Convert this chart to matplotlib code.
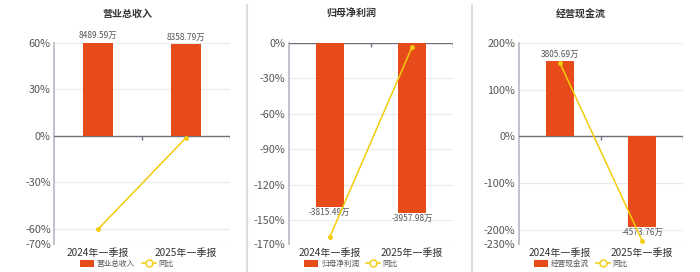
import matplotlib
matplotlib.use("Agg")
import matplotlib.pyplot as plt
from matplotlib.patches import Patch
from matplotlib.lines import Line2D

plt.rcParams['font.family'] = ['Noto Sans CJK SC', 'DejaVu Sans']

# data
periods = ['2024年一季报', '2025年一季报']
titles = ['营业总收入', '归母净利润', '经营现金流']
values = [[8489.59, 8358.79], [-3815.49, -3957.98], [3805.69, -4573.76]]
yoy = [[-60.3, -1.2], [-164.0, -3.2], [157.6, -223.0]]
yticks = [[60, 30, 0, -30, -60, -70],
          [0, -30, -60, -90, -120, -150, -170],
          [200, 100, 0, -100, -200, -230]]

BAR = '#e84b1a'
LINE = '#f2cc0c'
GRID = '#e8eaf2'
TXT = '#555555'

W, H = 700, 272
fig = plt.figure(figsize=(7, 2.72), dpi=100)

# panel geometry in pixels: (x0, x1), centre for title / legend
axes_x = [(54.3, 230.0), (288.7, 453.3), (518.7, 683.3)]
centres = [127, 351, 581]
top_px, bot_px = 43, 244
# bar units per percent on the hidden axis
bar_scale = [8489.59 / 60, 3957.98 / 143.8, 4573.76 / 193.5]

for i in range(3):
    x0, x1 = axes_x[i]
    ax = fig.add_axes([x0 / W, 1 - bot_px / H, (x1 - x0) / W, (bot_px - top_px) / H])
    ymax, ymin = max(yticks[i]), min(yticks[i])
    ax.set_ylim(ymin, ymax)
    ax.set_xlim(-0.5, 1.5)
    ax.set_yticks(yticks[i])
    ax.set_yticklabels(['%d%%' % t for t in yticks[i]])
    ax.tick_params(axis='y', length=0, labelsize=7.8, labelcolor=TXT, pad=2.5)
    ax.set_xticks([0, 1])
    ax.set_xticklabels(periods)
    ax.tick_params(axis='x', length=0, labelsize=7.2, labelcolor='#333333', pad=3)
    for t in yticks[i]:
        ax.axhline(t, color=GRID, lw=0.8, zorder=0)
    for s in ['top', 'right', 'bottom']:
        ax.spines[s].set_visible(False)
    ax.spines['left'].set_color('#b8b8c4')
    ax.spines['left'].set_linewidth(1.2)

    # zero axis line with category boundary ticks
    ax.axhline(0, color='#6e7079', lw=1, zorder=3)
    d = 4 * (ymax - ymin) / (bot_px - top_px)
    ax.vlines([0.5, 1.5], 0, -d, color='#6e7079', lw=1, zorder=3)

    # bars on a hidden twin axis
    bx = ax.twinx()
    bx.set_ylim(ymin * bar_scale[i], ymax * bar_scale[i])
    bx.set_yticks([])
    for s in bx.spines.values():
        s.set_visible(False)
    bx.bar([0, 1], values[i], width=0.34, color=BAR, zorder=2)
    for j, v in enumerate(values[i]):
        if v >= 0:
            bx.annotate('%.2f万' % v, (j, v), xytext=(0, 2), textcoords='offset points',
                        ha='center', va='bottom', fontsize=6, color=TXT)
        else:
            bx.annotate('%.2f万' % v, (j, v), xytext=(0, -1), textcoords='offset points',
                        ha='center', va='top', fontsize=6, color=TXT)

    # yoy line on top
    lx = ax.twinx()
    lx.set_ylim(ymin, ymax)
    lx.set_yticks([])
    for s in lx.spines.values():
        s.set_visible(False)
    lx.plot([0, 1], yoy[i], color=LINE, lw=1.1, marker='o', ms=2.5, zorder=4)

    fig.text(centres[i] / W, 1 - 14 / H, titles[i], ha='center', va='center',
             fontsize=7.2, fontweight='bold', color='#333333')

    handles = [Patch(facecolor=BAR, edgecolor='none', label=titles[i]),
               Line2D([0], [0], color=LINE, lw=1.1, marker='o', ms=5,
                      markerfacecolor='white', markeredgecolor=LINE, label='同比')]
    fig.legend(handles=handles, loc='center', bbox_to_anchor=(centres[i] / W, 1 - 264 / H),
               ncol=2, frameon=False, fontsize=5.5, handlelength=1.8, handleheight=0.9,
               handletextpad=0.4, columnspacing=0.9, borderpad=0, labelcolor='#555555')

# separators between panels
for xs in [247, 472]:
    fig.add_artist(Line2D([xs / W, xs / W], [0, 1 - 5 / H], color='#dddddd', lw=1.5))

fig.savefig('out.png', dpi=100, facecolor='white')
